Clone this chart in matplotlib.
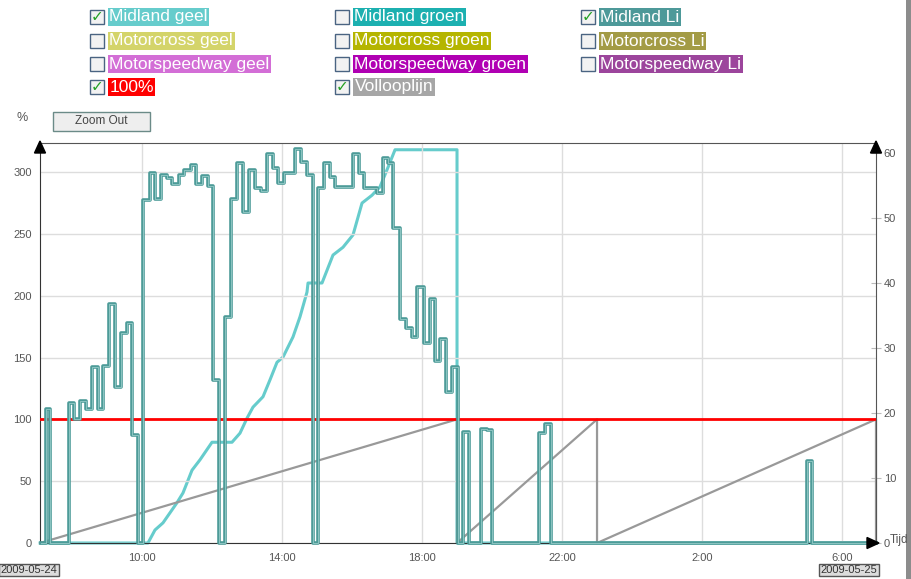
import matplotlib
matplotlib.use('Agg')
import matplotlib.pyplot as plt
from matplotlib.patches import Rectangle, Polygon
import matplotlib.patheffects as pe

plt.rcParams['font.family'] = ['Liberation Sans', 'DejaVu Sans']

# time in hours from 2009-05-24 00:00 (values above 24 are on 2009-05-25)
# Midland Li (%), each value holds until the next time
li_time = [7.114, 7.257, 7.371, 7.923, 8.066, 8.229, 8.391, 8.58, 8.734, 8.894,
           9.057, 9.229, 9.4, 9.563, 9.723, 9.894, 10.037, 10.229, 10.371, 10.534,
           10.706, 10.866, 11.066, 11.209, 11.391, 11.543, 11.706, 11.877, 12.037, 12.209,
           12.371, 12.534, 12.714, 12.894, 13.066, 13.229, 13.391, 13.563, 13.734, 13.894,
           14.066, 14.371, 14.534, 14.706, 14.877, 15.037, 15.2, 15.371, 15.514, 16.037,
           16.209, 16.343, 16.706, 16.877, 17.037, 17.18, 17.371, 17.543, 17.706, 17.866,
           18.057, 18.229, 18.371, 18.514, 18.686, 18.866, 19.02, 19.18, 19.351, 19.686,
           19.857, 20.009, 21.351, 21.514, 21.677, 28.991, 29.151, 30.97]
li_pct = [0, 108, 0, 113, 100, 115, 108, 142, 108, 143,
          193, 126, 170, 178, 87, 0, 277, 299, 278, 298,
          295, 290, 298, 302, 306, 290, 297, 289, 132, 0,
          183, 278, 307, 268, 302, 287, 285, 315, 303, 291,
          299, 319, 308, 298, 0, 287, 307, 296, 288, 315,
          299, 287, 283, 311, 307, 255, 181, 174, 167, 207,
          162, 197, 147, 165, 122, 142, 0, 90, 0, 92,
          91, 0, 89, 96, 0, 66, 0, 0]

# Midland geel (right axis)
geel_time = [7.09, 10.171, 10.371, 10.6, 11.0, 11.171, 11.429, 11.657, 12.0, 12.571,
             12.8, 13.0, 13.171, 13.457, 13.657, 13.857, 14.029, 14.314, 14.514, 14.714,
             14.743, 15.143, 15.457, 15.743, 16.029, 16.286, 16.571, 16.8, 17.029, 17.229,
             19.0, 19.0, 30.97]
geel_val = [0, 0, 2.0, 3.1, 6.2, 7.7, 11.2, 12.8, 15.5, 15.5,
            16.9, 19.2, 20.9, 22.5, 25.1, 27.8, 28.6, 31.7, 34.8, 38.6,
            40.0, 40.0, 44.3, 45.5, 47.4, 52.3, 53.5, 54.8, 57.8, 60.5,
            60.5, 0, 0]

# Vollooplijn (%)
vol_time = [7.09, 19.0, 19.0, 23.0, 23.0, 30.97, 30.97]
vol_pct = [0, 100, 0, 100, 0, 100, 0]

x_ticks = [10, 14, 18, 22, 26, 30]
x_labels = ['10:00', '14:00', '18:00', '22:00', '2:00', '6:00']
pct_ticks = [0, 50, 100, 150, 200, 250, 300]
right_ticks = [0, 10, 20, 30, 40, 50, 60]

legend_names = [['Midland geel', 'Midland groen', 'Midland Li'],
                ['Motorcross geel', 'Motorcross groen', 'Motorcross Li'],
                ['Motorspeedway geel', 'Motorspeedway groen', 'Motorspeedway Li'],
                ['100%', 'Vollooplijn']]
legend_colors = [['#66cccc', '#1cb0b0', '#4d9999'],
                 ['#d4d46a', '#b5b500', '#a39b45'],
                 ['#d36ed6', '#b000b3', '#9c459c'],
                 ['#ff0000', '#a6a6a6']]
legend_checked = [[True, False, True],
                  [False, False, False],
                  [False, False, False],
                  [True, True]]

W, H = 912, 579


def fx(x):
    return x / W


def fy(y):
    return 1 - y / H


fig = plt.figure(figsize=(W / 100, H / 100), dpi=100)
fig.patch.set_facecolor('white')

ax = fig.add_axes([fx(40), fy(543), 836 / W, 400 / H])
ax2 = ax.twinx()
# percent axis drawn on top of the right-hand axis
ax.set_zorder(ax2.get_zorder() + 1)
ax.patch.set_visible(False)

ax.set_xlim(7.086, 30.97)
ax.set_ylim(0, 323.5)
ax.set_xticks(x_ticks)
ax.set_xticklabels(x_labels)
ax.set_yticks(pct_ticks)
ax.grid(True, color='#dddddd', lw=1)
ax.set_axisbelow(True)
ax.tick_params(axis='both', length=0, labelsize=8, labelcolor='#555555')
ax.tick_params(axis='x', pad=7)
ax.tick_params(axis='y', pad=6)
for side in ['left', 'bottom']:
    ax.spines[side].set_color('#333333')
for side in ['top', 'right']:
    ax.spines[side].set_color('#555555')

ax2.set_ylim(0, 400 / 6.5)
ax2.set_yticks(right_ticks)
ax2.tick_params(axis='y', direction='inout', length=7, color='#bbbbbb',
                labelsize=8, labelcolor='#555555', pad=2)
for s in ax2.spines.values():
    s.set_visible(False)

# lines
ax2.plot(geel_time, geel_val, color='#66cccc', lw=2.2, clip_on=False, zorder=4)
ax.plot(vol_time, vol_pct, color='#999999', lw=1.6, clip_on=False, zorder=2)
ax.axhline(100, color='#ff0000', lw=2.0, zorder=3)
ax.step(li_time, li_pct, where='post', color='#8cc5c2', lw=0.7, clip_on=False, zorder=5,
        path_effects=[pe.Stroke(linewidth=2.6, foreground='#4d9b98'), pe.Normal()])


# axis arrows
def tri(points):
    fig.add_artist(Polygon([(fx(a), fy(b)) for a, b in points], closed=True,
                           transform=fig.transFigure, color='black', zorder=10))


tri([(40, 141), (34.5, 153), (45.5, 153)])
tri([(876, 141), (870.5, 153), (881.5, 153)])
tri([(879, 543), (867, 537.5), (867, 548.5)])

fig.text(fx(890), fy(540), 'Tijd', fontsize=8.5, color='#555555', va='center', ha='left')
fig.text(fx(22), fy(118), '%', fontsize=9, color='#555555', va='center', ha='center')

# Zoom Out button
fig.add_artist(Rectangle((fx(53), fy(131)), 97 / W, 19 / H, transform=fig.transFigure,
                         fc='#eeeeee', ec='#6b8b88', lw=1))
fig.text(fx(101.5), fy(121.5), 'Zoom Out', fontsize=8.5, color='#444444', va='center', ha='center')

# date boxes
for xc, lab in [(29, '2009-05-24'), (849, '2009-05-25')]:
    fig.text(fx(xc), fy(570), lab, fontsize=8, color='#333333', va='center', ha='center',
             bbox=dict(boxstyle='square,pad=0.12', fc='#dcdcdc', ec='#555555', lw=1))

# legend with checkboxes
col_x = [90, 335, 581]
row_y = [17, 41, 64, 87]
for r, names in enumerate(legend_names):
    for c, name in enumerate(names):
        bx, by = col_x[c], row_y[r]
        fig.add_artist(Rectangle((fx(bx), fy(by + 7)), 14 / W, 14 / H, transform=fig.transFigure,
                                 fc='#f2f2f2', ec='#4a6482', lw=1))
        if legend_checked[r][c]:
            fig.text(fx(bx + 7), fy(by), '\u2713', family='DejaVu Sans', fontsize=11,
                     color='#22a022', va='center', ha='center')
        fig.text(fx(bx + 19.5), fy(by), name, fontsize=12.5, color='white', va='center', ha='left',
                 bbox=dict(boxstyle='square,pad=0.08', fc=legend_colors[r][c], ec='none'))

# window edge on the right
fig.add_artist(Rectangle((fx(906), 0), 6 / W, 1, transform=fig.transFigure, fc='#8c8c8c', ec='none'))

fig.savefig('out.png', dpi=100)
